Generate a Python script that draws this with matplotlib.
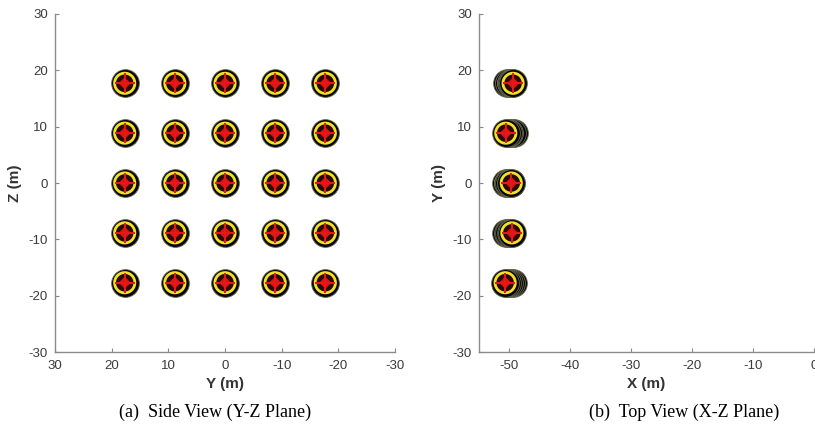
import matplotlib.pyplot as plt

plt.rcParams["font.family"] = ["Liberation Sans", "DejaVu Sans"]
plt.rcParams["axes.unicode_minus"] = False

# Side view (Y-Z plane): 5x5 grid of positions
side_y = [17.7, 8.85, 0.0, -8.85, -17.7]
side_z = [17.7, 8.85, 0.0, -8.85, -17.7]

# Top view (X-Y plane): each row collapses 5 points near X = -50
top_y = [17.7, 8.85, 0.0, -8.85, -17.7]
top_x = [
    [-50.4, -50.1, -49.8, -49.6, -49.4],
    [-49.3, -49.6, -50.0, -50.3, -50.6],
    [-50.6, -50.3, -50.0, -49.8, -49.7],
    [-50.5, -50.2, -50.0, -49.8, -49.6],
    [-49.4, -49.7, -50.0, -50.4, -50.7],
]

OUTER = 14.5 ** 2 * 1.9   # marker areas in pt^2
RING = 10.6 ** 2 * 1.9
INNER = 9.5 ** 2 * 1.9


def draw_target(ax, x, y, z0=3):
    ax.scatter([x], [y], s=OUTER, c="#050505", edgecolors="#6a6a55",
               linewidths=0.6, zorder=z0)
    ax.scatter([x], [y], s=INNER, c="#2a0606", edgecolors="none", zorder=z0 + 0.1)
    ax.scatter([x], [y], s=RING, facecolors="none", edgecolors="#f2e227",
               linewidths=2.0, zorder=z0 + 0.2)
    ax.scatter([x], [y], marker="D", s=38, c="#dd1414", edgecolors="none",
               zorder=z0 + 0.3)
    ax.scatter([x], [y], marker="+", s=220, c="#e81818", linewidths=1.4,
               zorder=z0 + 0.4)


def style_axes(ax):
    for side in ("top", "right"):
        ax.spines[side].set_visible(False)
    for side in ("left", "bottom"):
        ax.spines[side].set_color("#8a8a8a")
        ax.spines[side].set_linewidth(1.0)
    ax.tick_params(direction="in", length=3, color="#8a8a8a",
                   labelsize=9.5, labelcolor="#3a3a3a")
    ax.tick_params(axis="x", pad=6)
    ax.tick_params(axis="y", pad=5)


fig = plt.figure(figsize=(8.15, 4.43), dpi=100)

# (a) side view
ax1 = fig.add_axes([0.0675, 0.2054, 0.4172, 0.763])
for z in side_z:
    for y in side_y:
        draw_target(ax1, y, z)
ax1.set_xlim(30, -30)
ax1.set_ylim(-30, 30)
ax1.set_xticks([30, 20, 10, 0, -10, -20, -30])
ax1.set_yticks([-30, -20, -10, 0, 10, 20, 30])
style_axes(ax1)
ax1.set_xlabel("Y (m)", fontsize=11, fontweight="bold", color="#333333", labelpad=3)
ax1.set_ylabel("Z (m)", fontsize=11, fontweight="bold", color="#333333", labelpad=5)

# (b) top view
ax2 = fig.add_axes([0.5877, 0.2054, 0.411, 0.763])
for y, xs in zip(top_y, top_x):
    for k, x in enumerate(xs):
        draw_target(ax2, x, y, z0=3 + k)
ax2.set_xlim(-55, 0)
ax2.set_ylim(-30, 30)
ax2.set_xticks([-50, -40, -30, -20, -10, 0])
ax2.set_yticks([-30, -20, -10, 0, 10, 20, 30])
style_axes(ax2)
ax2.set_xlabel("X (m)", fontsize=11, fontweight="bold", color="#333333", labelpad=3)
ax2.set_ylabel("Y (m)", fontsize=11, fontweight="bold", color="#333333", labelpad=5)

fig.text(0.264, 0.07, "(a)  Side View (Y-Z Plane)", ha="center", va="center",
         family="Liberation Serif", fontsize=13)
fig.text(0.839, 0.07, "(b)  Top View (X-Z Plane)", ha="center", va="center",
         family="Liberation Serif", fontsize=13)

fig.savefig("out.png", dpi=100)
